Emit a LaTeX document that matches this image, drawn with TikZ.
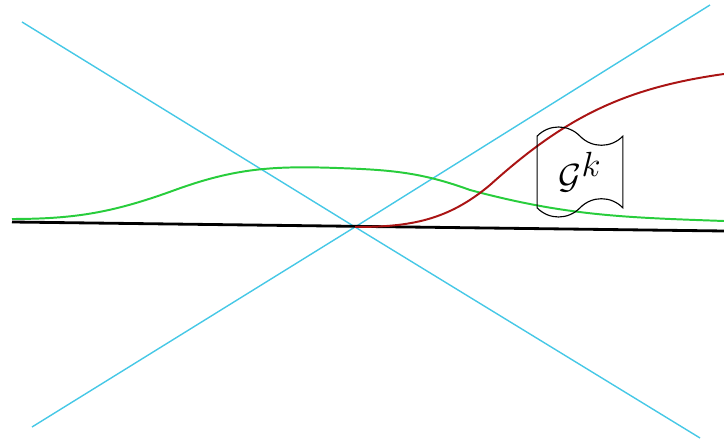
\documentclass[tikz,border=0pt]{standalone}
\usepackage{tikz}
\usetikzlibrary{shapes.symbols}
\definecolor{conecyan}{RGB}{70,200,230}
\definecolor{curvegreen}{RGB}{40,205,60}
\definecolor{curvered}{RGB}{170,20,20}
\tikzset{
  axisline/.style={draw=black, line width=2pt},
  coneline/.style={draw=conecyan, line width=1pt},
  gcurve/.style={draw=curvegreen, line width=1.4pt},
  rcurve/.style={draw=curvered, line width=1.4pt},
  gtape/.style={draw, tape, tape bend top=out and in, tape bend bottom=in and out, tape bend height=13pt, minimum width=61pt, minimum height=64pt, inner sep=0pt, line width=0.8pt, font=\fontsize{37}{40}\selectfont}
}
\begin{document}
\begin{tikzpicture}[x=0.025cm,y=-0.025cm]
\useasboundingbox (0,0) rectangle (724,444);
\coordinate (o) at (355,227);
\coordinate (nw) at (22,22);
\coordinate (se) at (700,438);
\coordinate (sw) at (32,427);
\coordinate (ne) at (710,5);
\coordinate (west) at (12,222);
\coordinate (east) at (724,231);
% light cone
\draw[coneline] (nw) -- (o) -- (se);
\draw[coneline] (sw) -- (o) -- (ne);
\draw[axisline] (west) -- (east);
% curves
\draw[gcurve] (12,219) to[out=0,in=200] (175,190) to[out=20,in=178] (337,168)
  to[out=-2,in=160] (470,190) to[out=-15,in=178] (724,221);
\draw[rcurve] (o) to[out=0,in=220] (490,185) to[out=42,in=188] (724,74);
\node[gtape] (gk) at (580,172) {$\mathcal{G}^k$};
\end{tikzpicture}
\end{document}
